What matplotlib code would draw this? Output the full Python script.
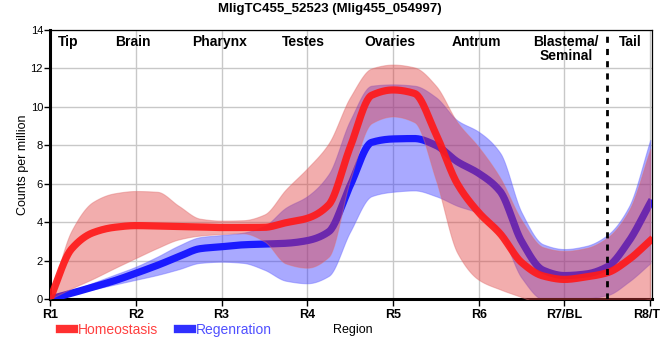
import numpy as np
import matplotlib
matplotlib.use('Agg')
import matplotlib.pyplot as plt
from matplotlib.lines import Line2D

plt.rcParams['font.family'] = ['Liberation Sans', 'DejaVu Sans']

# data, sampled every quarter region
pos = [0, 0.25, 0.5, 0.75, 1, 1.25, 1.5, 1.75, 2, 2.25, 2.5, 2.75, 3, 3.25, 3.5,
       3.75, 4, 4.25, 4.5, 4.75, 5, 5.25, 5.5, 5.75, 6, 6.25, 6.5, 6.75, 7]

homeo = [0, 2.6, 3.45, 3.73, 3.82, 3.8, 3.77, 3.75, 3.72, 3.72, 3.73, 3.97, 4.2, 4.9, 7.9,
         10.6, 10.88, 10.7, 8.6, 6.0, 4.5, 3.4, 1.9, 1.2, 1.02, 1.15, 1.37, 2.05, 3.04]
homeo_hi = [0, 3.55, 5.05, 5.5, 5.62, 5.58, 4.85, 4.18, 4.08, 4.1, 4.4, 5.7, 6.8, 8.1, 10.5,
            12.0, 12.2, 12.05, 11.1, 9.2, 7.9, 6.3, 4.1, 2.7, 2.5, 2.65, 3.2, 4.6, 7.8]
homeo_lo = [0, 0.55, 1.05, 1.6, 2.13, 2.65, 3.1, 3.3, 3.38, 3.42, 3.0, 1.85, 1.63, 2.2, 6.2,
            9.15, 9.5, 9.2, 6.2, 2.4, 1.0, 0.5, 0.1, -0.3, -0.5, -0.5, -0.4, -0.2, 0.0]

regen = [0, 0.3, 0.62, 0.95, 1.34, 1.75, 2.2, 2.62, 2.72, 2.82, 2.86, 2.9, 3.04, 3.5, 5.9,
         8.15, 8.33, 8.35, 8.0, 7.15, 6.54, 5.6, 3.0, 1.5, 1.22, 1.3, 1.68, 3.0, 5.0]
regen_hi = [0, 0.42, 0.84, 1.26, 1.68, 2.2, 2.78, 3.22, 3.33, 3.45, 3.8, 4.75, 5.35, 6.5, 9.3,
            11.1, 11.17, 11.1, 10.5, 9.3, 8.7, 7.6, 4.5, 2.85, 2.6, 2.76, 3.33, 4.8, 8.28]
regen_lo = [0, 0.25, 0.5, 0.75, 1.0, 1.25, 1.55, 1.88, 1.94, 1.88, 1.52, 0.95, 0.82, 1.2, 3.5,
            5.35, 5.58, 5.65, 5.35, 4.85, 4.46, 3.45, 1.1, 0.0, 0.04, 0.04, 0.2, 0.9, 1.86]

tick_labels = ['R1', 'R2', 'R3', 'R4', 'R5', 'R6', 'R7/BL', 'R8/TL']
regions = ['Tip', 'Brain', 'Pharynx', 'Testes', 'Ovaries', 'Antrum', 'Blastema/\nSeminal', 'Tail']
region_pos = [0.21, 0.97, 1.98, 2.95, 3.97, 4.97, 6.02, 6.77]
tail_start = 6.5


# smooth curve through the read points (monotone cubic hermite)
def smooth(x, y, n=24):
    x = np.asarray(x, float)
    y = np.asarray(y, float)
    h = np.diff(x)
    d = np.diff(y) / h
    m = np.zeros_like(y)
    m[0] = d[0]
    m[-1] = d[-1]
    for i in range(1, len(x) - 1):
        if d[i - 1] * d[i] > 0:
            w1 = 2 * h[i] + h[i - 1]
            w2 = h[i] + 2 * h[i - 1]
            m[i] = (w1 + w2) / (w1 / d[i - 1] + w2 / d[i])
    xs, ys = [], []
    t = np.linspace(0, 1, n, endpoint=False)
    for i in range(len(x) - 1):
        h00 = 2 * t**3 - 3 * t**2 + 1
        h10 = t**3 - 2 * t**2 + t
        h01 = -2 * t**3 + 3 * t**2
        h11 = t**3 - t**2
        xs.append(x[i] + t * h[i])
        ys.append(h00 * y[i] + h10 * h[i] * m[i] + h01 * y[i + 1] + h11 * h[i] * m[i + 1])
    xs.append([x[-1]])
    ys.append([y[-1]])
    return np.concatenate(xs), np.concatenate(ys)


fig = plt.figure(figsize=(6.6, 3.6), dpi=100)
ax = fig.add_axes([0.0758, 0.1694, 0.912, 0.7473])

red = '#ff1a1a'
blue = '#1a1aff'

xs, lo = smooth(pos, regen_lo)
xs, hi = smooth(pos, regen_hi)
ax.fill_between(xs, lo, hi, color='#3333ff', alpha=0.42, linewidth=0.8, edgecolor='#6666ff', zorder=2)
xs, yy = smooth(pos, regen)
ax.plot(xs, yy, color=blue, linewidth=5.2, zorder=3)

xs, lo = smooth(pos, homeo_lo)
xs, hi = smooth(pos, homeo_hi)
ax.fill_between(xs, lo, hi, color='#e03c3c', alpha=0.42, linewidth=0.8, edgecolor='#e07070', zorder=4)
xs, yy = smooth(pos, homeo)
ax.plot(xs, yy, color=red, linewidth=5.2, alpha=0.92, zorder=5)

ax.axvline(tail_start, color='black', linestyle=(0, (2.2, 2.2)), linewidth=2, zorder=6)

for name, p in zip(regions, region_pos):
    ax.text(p, 13.75, name, ha='center', va='top', fontsize=10, fontweight='bold',
            linespacing=1.0, zorder=7)

ax.set_xlim(0, 7.02)
ax.set_ylim(0, 14)
ax.set_xticks(range(len(tick_labels)))
ax.set_xticklabels(tick_labels, fontweight='bold', fontsize=9)
ax.set_yticks(range(0, 15, 2))
ax.tick_params(axis='y', labelsize=8, length=4, width=1, pad=1)
ax.tick_params(axis='x', length=5, width=1, pad=2)
ax.grid(True, color='#c8c8c8', linewidth=1)
ax.set_axisbelow(True)

ax.spines['left'].set_linewidth(2.2)
ax.spines['bottom'].set_linewidth(2.2)
ax.spines['top'].set_linewidth(0.9)
ax.spines['right'].set_linewidth(0.9)

ax.set_ylabel('Counts per million', fontsize=9, labelpad=1)
fig.text(0.535, 0.083, 'Region', ha='center', va='center', fontsize=9)
fig.text(0.5, 0.975, 'MligTC455_52523 (Mlig455_054997)', ha='center', va='center',
         fontsize=9.5, fontweight='bold')

handles = [Line2D([], [], color='#ff3030', linewidth=6),
           Line2D([], [], color='#3030ff', linewidth=6)]
leg = fig.legend(handles, ['Homeostasis', 'Regenration'], ncol=2, frameon=False,
                 loc='center left', bbox_to_anchor=(0.072, 0.083), handlelength=1.0,
                 handletextpad=0.3, columnspacing=1.4, fontsize=10,
                 labelcolor=['#ff4040', '#5050ff'])

fig.savefig('out.png', dpi=100)
